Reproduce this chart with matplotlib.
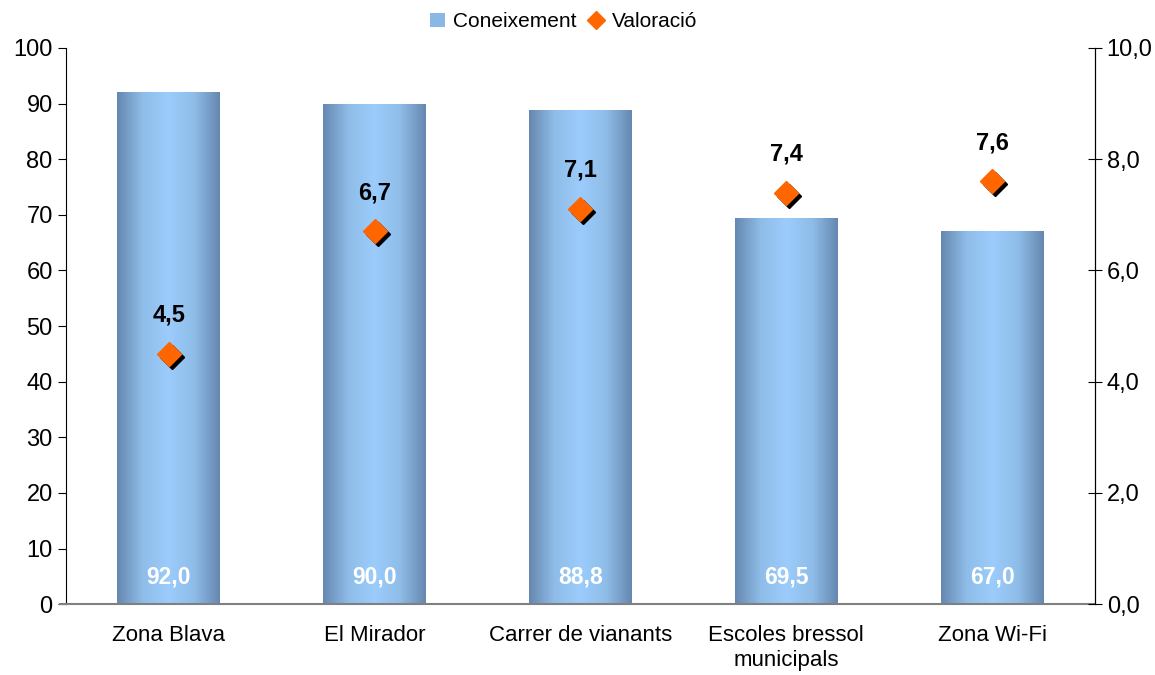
import numpy as np
import matplotlib
matplotlib.use("Agg")
from matplotlib import pyplot as plt
from matplotlib.patches import Rectangle
from matplotlib.lines import Line2D
from matplotlib.colors import LinearSegmentedColormap
from matplotlib.ticker import FuncFormatter

categories = ["Zona Blava", "El Mirador", "Carrer de vianants",
              "Escoles bressol\nmunicipals", "Zona Wi-Fi"]
coneixement = [92.0, 90.0, 88.8, 69.5, 67.0]
valoracio = [4.5, 6.7, 7.1, 7.4, 7.6]

plt.rcParams['font.family'] = ['Liberation Sans', 'DejaVu Sans']


def comma(v, decimals=1):
    return f"{v:.{decimals}f}".replace('.', ',')


def main():
    fig = plt.figure(figsize=(11.55, 6.75), dpi=100)
    ax = fig.add_axes([0.057, 0.105, 0.891, 0.824])
    ax2 = ax.twinx()

    x = np.arange(len(categories))
    width = 0.5
    cmap = LinearSegmentedColormap.from_list(
        "bar", ["#6688b0", "#8fbde8", "#9cccfc", "#8fbde8", "#6688b0"])
    grad = np.linspace(0, 1, 256).reshape(1, -1)

    for xi, v in zip(x, coneixement):
        rect = Rectangle((xi - width / 2, 0), width, v, facecolor="none",
                         edgecolor="none")
        ax.add_patch(rect)
        im = ax.imshow(grad, cmap=cmap, aspect="auto",
                       extent=(xi - width / 2, xi + width / 2, 0, v),
                       zorder=2)
        im.set_clip_path(rect)
        ax.text(xi, 4.8, comma(v), ha="center", va="center", color="white",
                fontsize=16.5, fontweight="bold", zorder=4)

    ax.set_xlim(-0.5, len(categories) - 0.5)
    ax.set_ylim(0, 100)
    ax.set_yticks(range(0, 101, 10))
    ax.set_xticks(x)
    ax.set_xticklabels(categories, fontsize=16, linespacing=1.25)
    ax.tick_params(axis="x", length=0, pad=15)
    ax.tick_params(axis="y", labelsize=17, direction="out", length=6)
    ax.spines["top"].set_visible(False)
    ax.spines["bottom"].set_color("#808080")
    ax.spines["bottom"].set_linewidth(1.5)
    ax.spines["bottom"].set_bounds(-0.53, len(categories) - 0.5)
    ax.spines["bottom"].set_zorder(5)

    ax2.set_ylim(0, 10)
    ax2.set_yticks(range(0, 11, 2))
    ax2.yaxis.set_major_formatter(FuncFormatter(lambda v, p: comma(v)))
    ax2.tick_params(axis="y", labelsize=17, direction="inout", length=10)
    ax2.spines["top"].set_visible(False)
    ax2.spines["bottom"].set_visible(False)
    ax2.spines["left"].set_visible(False)

    # shadow + diamond
    ax2.plot(x, valoracio, "D", ms=12.5, color="black", linestyle="none",
             transform=ax2.transData + matplotlib.transforms.ScaledTranslation(
                 3 / 100, -3 / 100, fig.dpi_scale_trans), zorder=3)
    ax2.plot(x, valoracio, "D", ms=12.5, color="#ff6600", linestyle="none",
             zorder=4)
    for xi, v in zip(x, valoracio):
        ax2.annotate(comma(v), (xi, v), xytext=(0, 28),
                     textcoords="offset points", ha="center", va="center",
                     fontsize=17, fontweight="bold")

    handles = [Rectangle((0, 0), 1, 1, facecolor="#8ab8e6", edgecolor="none"),
               Line2D([], [], marker="D", color="#ff6600", linestyle="none",
                      ms=9)]
    fig.legend(handles, ["Coneixement", "Valoració"], loc="center",
               bbox_to_anchor=(0.488, 0.968), ncol=2, frameon=False,
               fontsize=15, handlelength=0.7, handletextpad=0.4,
               columnspacing=0.6)

    fig.savefig("out.png", dpi=100)


if __name__ == '__main__':
    main()
